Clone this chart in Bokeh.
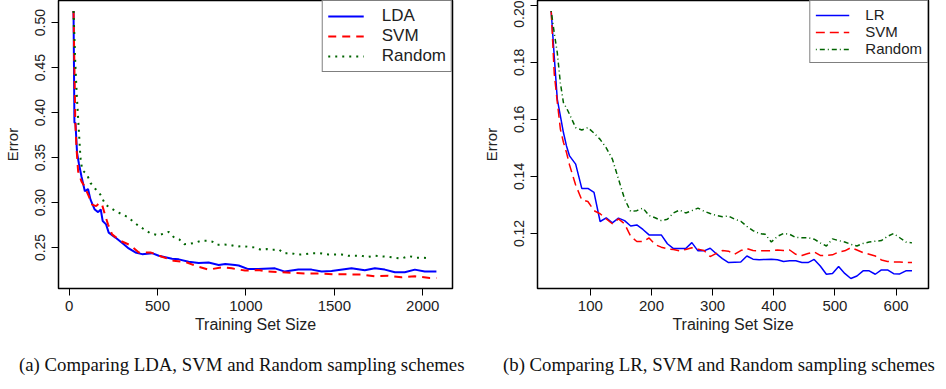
from bokeh.plotting import figure
from bokeh.layouts import row, column
from bokeh.models import Range1d, FixedTicker, Legend, LegendItem, Div
from bokeh.embed import file_html
from bokeh.resources import INLINE

# ---------------- Panel (a) data ----------------
lda_x = [25, 30, 36, 45, 55, 70, 89, 107, 121, 145, 164, 179, 190, 209, 224, 262, 309, 337, 375,
         413, 469, 507, 582, 620, 676, 733, 789, 846, 883, 938, 959, 1013, 1070, 1164, 1220, 1296,
         1371, 1428, 1484, 1597, 1672, 1729, 1785, 1842, 1898, 1955, 2011, 2077]
lda_y = [0.513, 0.389, 0.388, 0.355, 0.3437, 0.329, 0.3125, 0.315, 0.3032, 0.2922, 0.2893, 0.2922,
         0.2794, 0.2757, 0.2665, 0.261, 0.2536, 0.2489, 0.2445, 0.2426, 0.2437, 0.2408, 0.2375,
         0.2368, 0.2342, 0.2327, 0.2334, 0.2305, 0.2316, 0.2305, 0.2300, 0.2260, 0.2262, 0.2268,
         0.2232, 0.2254, 0.2254, 0.2232, 0.2239, 0.2268, 0.2246, 0.2268, 0.2254, 0.2224, 0.2224,
         0.2254, 0.2232, 0.2232]

svm_a_x = [25, 30, 35, 42, 51, 70, 89, 111, 130, 153, 172, 185, 205, 220, 243, 290, 347, 394, 460,
           525, 591, 657, 723, 789, 864, 920, 995, 1070, 1127, 1202, 1277, 1353, 1428, 1503, 1653,
           1729, 1804, 1879, 1955, 2039, 2077]
svm_a_y = [0.513, 0.45, 0.39, 0.36, 0.3346, 0.3235, 0.3172, 0.307, 0.2977, 0.296, 0.2996, 0.2985,
           0.285, 0.2757, 0.2646, 0.2574, 0.2525, 0.2445, 0.2445, 0.2397, 0.2353, 0.234, 0.229,
           0.2254, 0.2279, 0.2268, 0.2243, 0.225, 0.2232, 0.2224, 0.2217, 0.221, 0.221, 0.2202,
           0.2200, 0.218, 0.2187, 0.2169, 0.2180, 0.2161, 0.2161]

rnd_a_x = [25, 35, 43, 56, 64, 74, 102, 121, 149, 177, 205, 262, 328, 394, 460, 507, 563, 590, 622,
           651, 679, 717, 745, 782, 810, 838, 876, 909, 947, 984, 1014, 1053, 1085, 1119, 1151, 1185,
           1217, 1254, 1292, 1330, 1373, 1419, 1466, 1540, 1578, 1653, 1687, 1725, 1800, 1842, 1879,
           1921, 1964, 2007, 2045]
rnd_a_y = [0.513, 0.455, 0.421, 0.377, 0.350, 0.3363, 0.3308, 0.3217, 0.315, 0.3088, 0.2977, 0.2905,
           0.2842, 0.2739, 0.2657, 0.2636, 0.2673, 0.2618, 0.2591, 0.2536, 0.2540, 0.2555, 0.2574,
           0.2574, 0.2565, 0.2530, 0.2532, 0.2530, 0.2511, 0.2515, 0.2508, 0.2500, 0.2474, 0.2482,
           0.2474, 0.2478, 0.2434, 0.2438, 0.2420, 0.2425, 0.2437, 0.2437, 0.2423, 0.2423, 0.2408,
           0.2408, 0.2393, 0.2408, 0.2397, 0.2386, 0.2378, 0.2404, 0.2386, 0.2386, 0.2378]

a_xticks = [0, 500, 1000, 1500, 2000]
a_yticks = [0.25, 0.30, 0.35, 0.40, 0.45, 0.50]
a_labels = ["LDA", "SVM", "Random"]
a_caption = "(a) Comparing LDA, SVM and Random sampling schemes"

# ---------------- Panel (b) data ----------------
b_x = [36, 41, 46, 51, 56, 61, 66, 76, 86, 96, 106, 116, 126, 136, 146, 156, 166, 176, 186, 196,
       206, 216, 226, 236, 246, 256, 266, 276, 286, 296, 306, 316, 326, 336, 346, 356, 366, 376,
       386, 396, 406, 416, 426, 436, 446, 456, 466, 476, 486, 496, 506, 516, 526, 536, 546, 556,
       566, 576, 586, 596, 606, 616, 626]
lr_y = [0.198, 0.182, 0.167, 0.1612, 0.1554, 0.1507, 0.1472, 0.1443, 0.1358, 0.1358, 0.1344,
        0.1242, 0.1255, 0.1237, 0.1254, 0.1245, 0.1226, 0.1230, 0.1214, 0.1195, 0.1195, 0.1195,
        0.1164, 0.1147, 0.1147, 0.1147, 0.1168, 0.1139, 0.1139, 0.1148, 0.1129, 0.1112, 0.1098,
        0.1099, 0.1100, 0.1121, 0.1110, 0.1108, 0.1109, 0.1110, 0.1108, 0.1102, 0.1104, 0.1104,
        0.1098, 0.1098, 0.1109, 0.1086, 0.1057, 0.1060, 0.1084, 0.1060, 0.1042, 0.1051, 0.1069,
        0.1069, 0.1057, 0.1072, 0.1072, 0.1059, 0.1058, 0.1069, 0.1069]
svm_b_y = [0.198, 0.176, 0.166, 0.1566, 0.152, 0.1484, 0.1440, 0.1370, 0.1318, 0.1312, 0.1280,
           0.1269, 0.1251, 0.1234, 0.1251, 0.1234, 0.1190, 0.1172, 0.1172, 0.1184, 0.1161, 0.1152,
           0.1146, 0.1144, 0.1139, 0.1144, 0.1150, 0.1145, 0.1140, 0.1119, 0.1130, 0.1140, 0.1138,
           0.1127, 0.1140, 0.1147, 0.1140, 0.1139, 0.1139, 0.1140, 0.1142, 0.1140, 0.1142, 0.1127,
           0.1123, 0.1130, 0.1135, 0.1123, 0.1123, 0.1125, 0.1135, 0.1139, 0.1150, 0.1142, 0.1133,
           0.1127, 0.1121, 0.1107, 0.1102, 0.1100, 0.1100, 0.1098, 0.1098]
rnd_b_y = [0.198, 0.1903, 0.1833, 0.1728, 0.1659, 0.1640, 0.1618, 0.1571, 0.1563, 0.1571, 0.1552,
           0.1530, 0.1500, 0.1461, 0.1391, 0.1321, 0.1277, 0.1280, 0.1289, 0.1263, 0.1255, 0.1245,
           0.1250, 0.1272, 0.1282, 0.1272, 0.1280, 0.1289, 0.1278, 0.1270, 0.1263, 0.1259, 0.1261,
           0.1250, 0.1243, 0.1225, 0.1210, 0.1200, 0.1197, 0.1170, 0.1190, 0.1200, 0.1197, 0.1186,
           0.1185, 0.1185, 0.1180, 0.1167, 0.1156, 0.1181, 0.1175, 0.1170, 0.1162, 0.1156, 0.1165,
           0.1170, 0.1173, 0.1175, 0.1190, 0.1200, 0.1185, 0.1170, 0.1167]

b_xticks = [100, 200, 300, 400, 500, 600]
b_yticks = [0.12, 0.14, 0.16, 0.18, 0.20]
b_labels = ["LR", "SVM", "Random"]
b_caption = "(b) Comparing LR, SVM and Random sampling schemes"

SANS = "Liberation Sans"
SERIF = "Liberation Serif"

FIG_H = 351
BORDER_B = 63


def style_axes(p, xticks, yticks, xfmt, yfmt):
    p.xaxis.ticker = FixedTicker(ticks=xticks)
    p.yaxis.ticker = FixedTicker(ticks=yticks)
    p.xaxis.major_label_overrides = {t: xfmt(t) for t in xticks}
    p.yaxis.major_label_overrides = {t: yfmt(t) for t in yticks}
    for ax in (p.xaxis[0], p.yaxis[0]):
        ax.axis_line_color = "black"
        ax.axis_line_width = 1
        ax.major_tick_line_color = "black"
        ax.major_tick_line_width = 1
        ax.major_tick_in = 0
        ax.major_tick_out = 7
        ax.minor_tick_line_color = None
        ax.major_label_text_font = SANS
        ax.major_label_text_color = "#222222"
        ax.axis_label_text_font = SANS
        ax.axis_label_text_font_style = "normal"
        ax.axis_label_text_color = "#222222"
    p.xaxis.major_label_text_font_size = "15px"
    p.yaxis.major_label_text_font_size = "14px"
    p.yaxis.major_label_orientation = "vertical"
    p.xaxis.axis_label = "Training Set Size"
    p.xaxis.axis_label_text_font_size = "16px"
    p.yaxis.axis_label = "Error"
    p.yaxis.axis_label_text_font_size = "15px"
    p.xaxis.major_label_standoff = 5
    p.xaxis.axis_label_standoff = 2
    p.yaxis.major_label_standoff = 6
    p.yaxis.axis_label_standoff = 12
    p.xgrid.visible = False
    p.ygrid.visible = False
    p.outline_line_color = "black"
    p.outline_line_width = 1.5
    p.outline_line_alpha = 1


def make_legend(p, items, font_size, glyph_w, standoff, pad):
    leg = Legend(items=items, location="top_right", margin=0)
    leg.border_line_color = "black"
    leg.border_line_width = 1.5
    leg.background_fill_color = "white"
    leg.background_fill_alpha = 1
    leg.label_text_font = SANS
    leg.label_text_font_size = font_size
    leg.label_text_color = "#222222"
    leg.glyph_width = glyph_w
    leg.glyph_height = 14
    leg.label_height = 14
    leg.label_standoff = standoff
    leg.padding = pad
    leg.spacing = 0
    p.add_layout(leg)


def caption_div(text, width, pad_left, pad_top):
    html = (f'<div style="font-family: \'{SERIF}\', serif; font-size: 18.8px; color: #111111; '
            f'white-space: nowrap; line-height: 20px; margin: 0; '
            f'padding-top: {pad_top}px; padding-left: {pad_left}px;">{text}</div>')
    return Div(text=html, width=width, height=22, margin=0)


# ---------------- Panel (a) ----------------
pa = figure(width=470, height=FIG_H, output_backend="svg", toolbar_location=None,
            x_range=Range1d(-60, 2168), y_range=Range1d(0.2044, 0.5246),
            min_border_left=58, min_border_right=18, min_border_top=0, min_border_bottom=BORDER_B)
style_axes(pa, a_xticks, a_yticks, lambda t: str(t), lambda t: f"{t:.2f}")
ra1 = pa.line(lda_x, lda_y, line_color="#0000ff", line_width=2)
ra2 = pa.line(svm_a_x, svm_a_y, line_color="#ff0000", line_width=2, line_dash="8 6")
ra3 = pa.line(rnd_a_x, rnd_a_y, line_color="#006400", line_width=2, line_dash="2 5")
make_legend(pa, [LegendItem(label=l, renderers=[r]) for l, r in zip(a_labels, [ra1, ra2, ra3])],
            "17px", 36, 18, 5)

# ---------------- Panel (b) ----------------
pb = figure(width=460, height=FIG_H, output_backend="svg", toolbar_location=None,
            x_range=Range1d(13.6, 653), y_range=Range1d(0.1007, 0.2017),
            min_border_left=67, min_border_right=2, min_border_top=0, min_border_bottom=BORDER_B)
style_axes(pb, b_xticks, b_yticks, lambda t: str(t), lambda t: f"{t:.2f}")
rb1 = pb.line(b_x, lr_y, line_color="#0000ff", line_width=1.5)
rb2 = pb.line(b_x, svm_b_y, line_color="#ff0000", line_width=1.5, line_dash="9 5")
rb3 = pb.line(b_x, rnd_b_y, line_color="#006400", line_width=1.5, line_dash="1 3 5 3")
make_legend(pb, [LegendItem(label=l, renderers=[r]) for l, r in zip(b_labels, [rb1, rb2, rb3])],
            "15px", 34, 16, 5)

cap_a = caption_div(a_caption, 470, 19, 4)
cap_b = caption_div(b_caption, 460, 33, 4)

layout = column(row(pa, pb), row(cap_a, cap_b))
open("out.html", "w").write(file_html(layout, INLINE))
